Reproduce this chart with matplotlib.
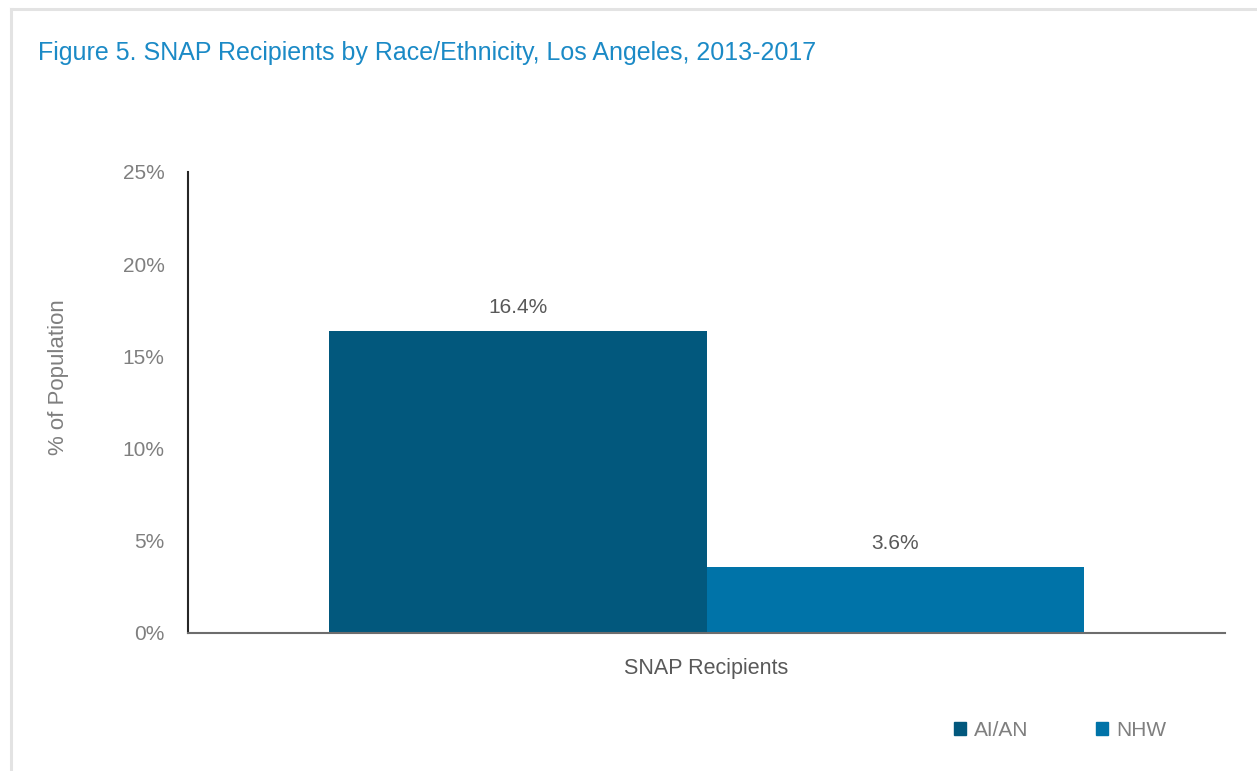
import matplotlib.pyplot as plt
from matplotlib.patches import Patch
from matplotlib.lines import Line2D

# data
category = ["SNAP Recipients"]
groups = ["AI/AN", "NHW"]
values = [16.4, 3.6]
colors = ["#02587d", "#0073a8"]
yticks = [0, 5, 10, 15, 20, 25]

plt.rcParams['font.family'] = ['Liberation Sans', 'DejaVu Sans']

grey = "#7f7f7f"
fig = plt.figure(figsize=(12.57, 7.71), dpi=100)
ax = fig.add_axes([188 / 1257, 1 - 633 / 771, (1225 - 188) / 1257, (633 - 172) / 771])

w = 0.3636
for i, (g, v, c) in enumerate(zip(groups, values, colors)):
    x = (i - 0.5) * w
    ax.bar(x, v, width=w, color=c, label=g)
    ax.text(x, v + 0.75, "%.1f%%" % v, ha="center", va="bottom", fontsize=15, color="#595959")

ax.set_xlim(-0.5, 0.5)
ax.set_ylim(0, 25)
ax.set_yticks(yticks)
ax.set_yticklabels(["%d%%" % t for t in yticks], fontsize=15, color=grey)
ax.tick_params(axis="y", length=0, pad=17)
ax.set_xticks([0])
ax.set_xticklabels(category, fontsize=15.5, color="#595959")
ax.tick_params(axis="x", length=0, pad=18)
ax.set_ylabel("% of Population", fontsize=16, color=grey)
ax.yaxis.set_label_coords(-0.115, 0.555)
ax.spines["top"].set_visible(False)
ax.spines["right"].set_visible(False)
ax.spines["left"].set_color("#262626")
ax.spines["left"].set_linewidth(1.5)
ax.spines["bottom"].set_color("#6d6d6d")
ax.spines["bottom"].set_linewidth(1.5)

handles = [Patch(color=c, label=g) for g, c in zip(groups, colors)]
leg = fig.legend(handles=handles, loc="center", bbox_to_anchor=(1060 / 1257, 1 - 730 / 771),
                 ncol=2, frameon=False, fontsize=15, handlelength=0.6, handleheight=0.6,
                 handletextpad=0.4, columnspacing=3.2)
for t in leg.get_texts():
    t.set_color(grey)

fig.text(38 / 1257, 1 - 53 / 771, "Figure 5. SNAP Recipients by Race/Ethnicity, Los Angeles, 2013-2017",
         fontsize=18, color="#1b8ac6", va="center", ha="left")

# outer border (top and left)
fig.add_artist(Line2D([10.5 / 1257, 10.5 / 1257], [0, 1 - 8.5 / 771], color="#e3e3e3", lw=2.2))
fig.add_artist(Line2D([10.5 / 1257, 1], [1 - 8.5 / 771, 1 - 8.5 / 771], color="#e3e3e3", lw=2.2))

fig.savefig("out.png", dpi=100)
